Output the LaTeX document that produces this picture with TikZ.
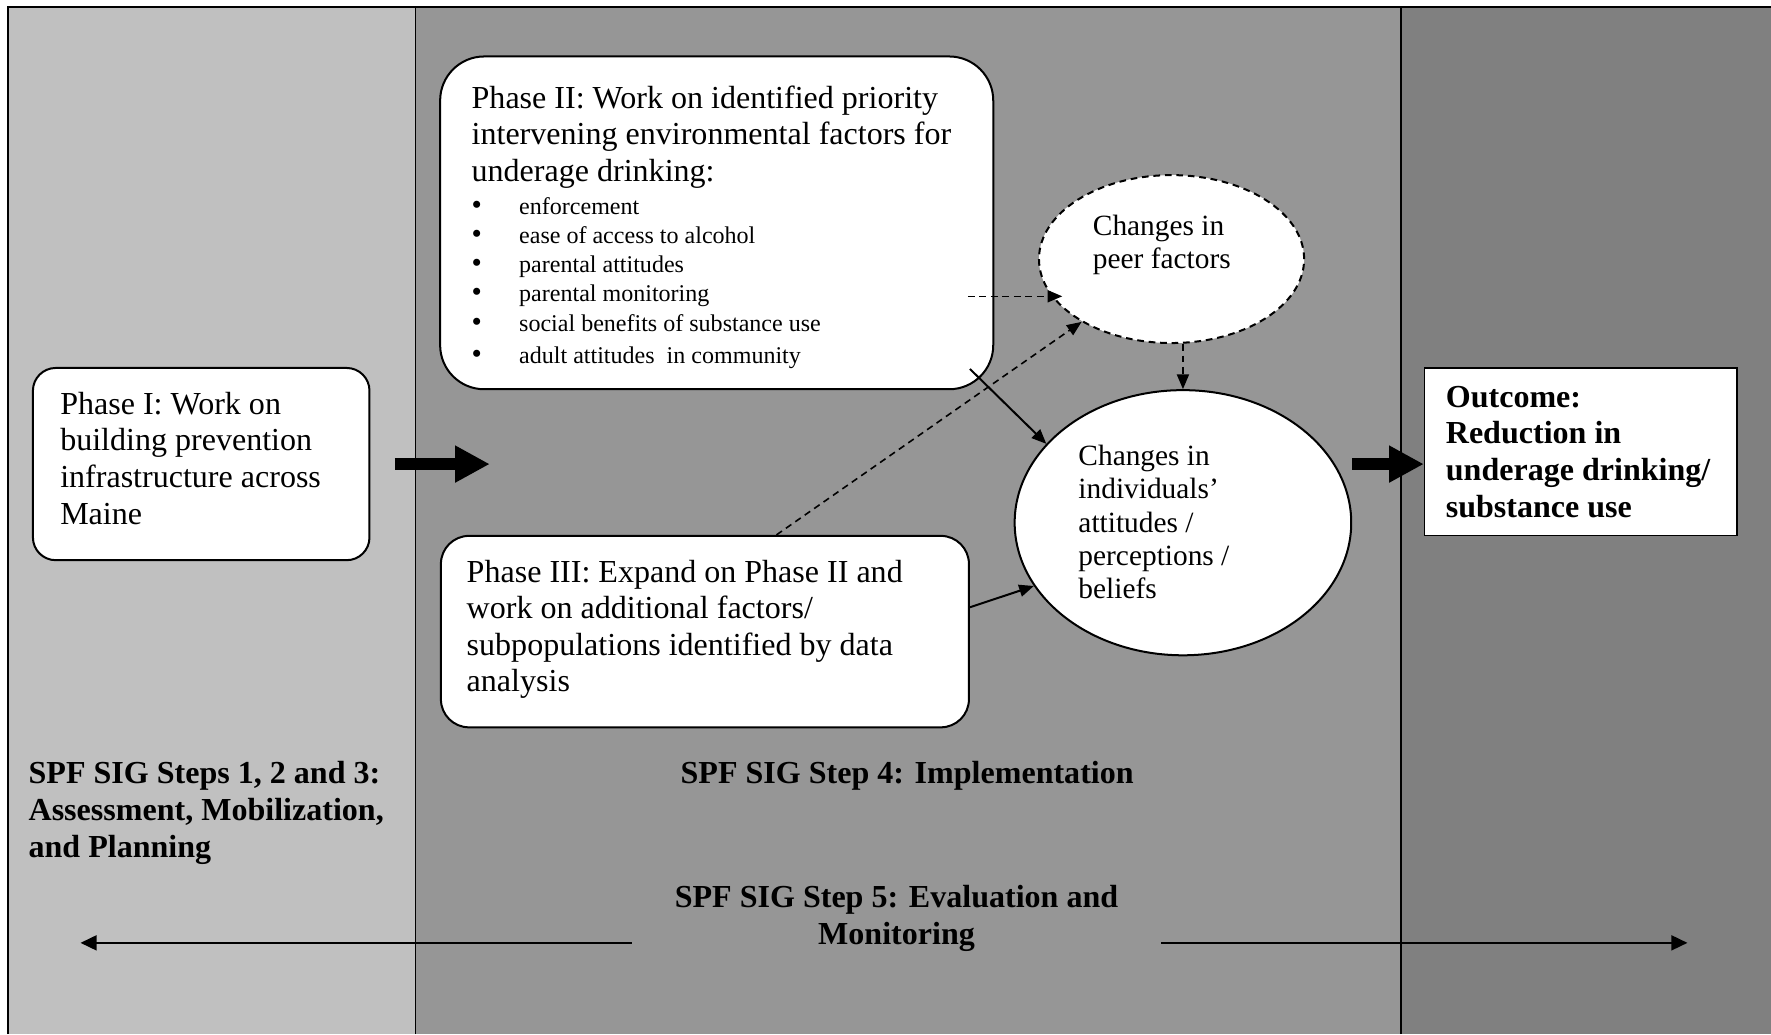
\documentclass[tikz,border=0pt]{standalone}
\usepackage{fontspec}
\setmainfont{Liberation Serif}
\usetikzlibrary{arrows.meta,shapes.geometric}
\definecolor{PanelLight}{HTML}{C0C0C0}
\definecolor{PanelMid}{HTML}{969696}
\definecolor{PanelDark}{HTML}{808080}
\newcommand\bulletmark{\makebox[17.8pt][l]{\fontsize{11}{11}\selectfont\textbullet}}
\tikzset{
  phasebox/.style={draw,line width=0.75pt,fill=white,rounded corners=#1,anchor=north west,
    align=flush left,inner ysep=0pt,font=\fontsize{12}{13.7}\selectfont},
  phasebox/.default=0.3cm,
  changebox/.style={ellipse,draw,fill=white,line width=0.75pt,inner sep=0pt,align=flush left,
    text height=0.26cm,font=\fontsize{11}{12.5}\selectfont},
  steplabel/.style={inner sep=0pt,font=\fontsize{12}{13.8}\selectfont\bfseries},
  fatarrow/.style={line width=4.5pt,-{Triangle[length=13pt,width=13pt]}},
  linkarrow/.style={line width=0.75pt,-{Triangle[length=5.5pt,width=4.5pt]}},
  dasharrow/.style={linkarrow,line width=0.6pt,dash pattern=on 2.5pt off 1.8pt},
  spanarrow/.style={line width=0.7pt,-{Triangle[length=6pt,width=5.6pt]}}
}
\begin{document}
\begin{tikzpicture}[x=1cm,y=1cm]
\path[use as bounding box] (0,0) rectangle (23.31,13.61);
\fill[PanelLight] (0.11,0) rectangle (5.47,13.52);
\fill[PanelMid] (5.47,0) rectangle (18.44,13.52);
\fill[PanelDark] (18.44,0) rectangle (23.31,13.52);
\draw[line width=0.8pt] (0.11,0) -- (0.11,13.52) -- (23.31,13.52);
\draw[line width=0.6pt] (5.47,0) -- (5.47,13.52);
\draw[line width=0.6pt] (18.44,0) -- (18.44,13.52);
\node[phasebox,text width=3.71cm,inner xsep=0.36cm,text height=0.61cm,text depth=1.92cm] (p1) at (0.42,8.78)
  {Phase I: Work on\\building prevention\\infrastructure across\\Maine};
\node[phasebox=0.58cm,text width=6.45cm,inner xsep=0.415cm,text height=0.68cm,text depth=3.70cm] (p2) at (5.78,12.88)
  {Phase II: Work on identified priority\\intervening environmental factors for\\underage drinking:\par
   \vspace{1.6pt}{\fontsize{9}{10.9}\selectfont
   \bulletmark enforcement\\
   \bulletmark ease of access to alcohol\\
   \bulletmark parental attitudes\\
   \bulletmark parental monitoring\\
   \bulletmark social benefits of substance use\\[1.2pt]
   \bulletmark adult attitudes\ \ in community\par}};
\node[phasebox=0.37cm,text width=6.27cm,inner xsep=0.34cm,text height=0.61cm,text depth=1.91cm] (p3) at (5.79,6.57)
  {Phase III: Expand on Phase II and\\work on additional factors/\\subpopulations identified by data\\analysis};
\node[changebox,dash pattern=on 2.5pt off 1.8pt,minimum width=3.49cm,minimum height=2.21cm,text width=2.07cm,text depth=0.89cm] (peer) at (15.42,10.20)
  {Changes in\\peer factors};
\node[changebox,minimum width=4.43cm,minimum height=3.49cm,text width=2.75cm,text depth=1.77cm] (indiv) at (15.57,6.73)
  {Changes in\\individuals’\\attitudes /\\perceptions /\\beliefs};
\node[phasebox=0pt,line width=0.6pt,font=\fontsize{12}{13.7}\selectfont\bfseries,text width=3.55cm,inner xsep=0.28cm,text height=0.52cm,text depth=1.69cm] (out) at (18.74,8.78)
  {Outcome:\\Reduction in\\underage drinking/\\substance use};
\node[steplabel,anchor=base west,text width=4.9cm,align=flush left] (steps13) at (0.37,3.30)
  {SPF SIG Steps 1, 2 and 3:\\Assessment, Mobilization,\\and Planning};
\node[steplabel,anchor=base] (step4) at (11.94,3.30) {SPF SIG Step 4: Implementation};
\node[steplabel,anchor=base,text width=6.96cm,align=flush center] (step5) at (11.80,1.66)
  {SPF SIG Step 5: Evaluation and\\Monitoring};
\draw[fatarrow] ([xshift=0.32cm]p1.east) -- ++(1.25,0);
\draw[fatarrow] (indiv.east |- p1.east) -- (out.west |- p1.east);
\coordinate (peerin) at (12.74,9.71);
\draw[dasharrow] (peerin) -- ([xshift=0.32cm]peerin -| peer.west);
\draw[dasharrow] ([xshift=4.43cm]p3.north west) -- (peer);
\draw[dasharrow] (peer.south -| indiv.north) -- (indiv.north);
\draw[linkarrow] ([shift={(-0.32,0.28)}]p2.south east) -- (indiv.150);
\draw[linkarrow] ([yshift=0.32cm]p3.east) -- (indiv.203);
\coordinate (evalleft) at (1.06,1.20);
\coordinate (evalright) at (22.21,1.20);
\draw[spanarrow] (step5.west |- evalleft) -- (evalleft);
\draw[spanarrow] (step5.east |- evalright) -- (evalright);
\end{tikzpicture}
\end{document}
